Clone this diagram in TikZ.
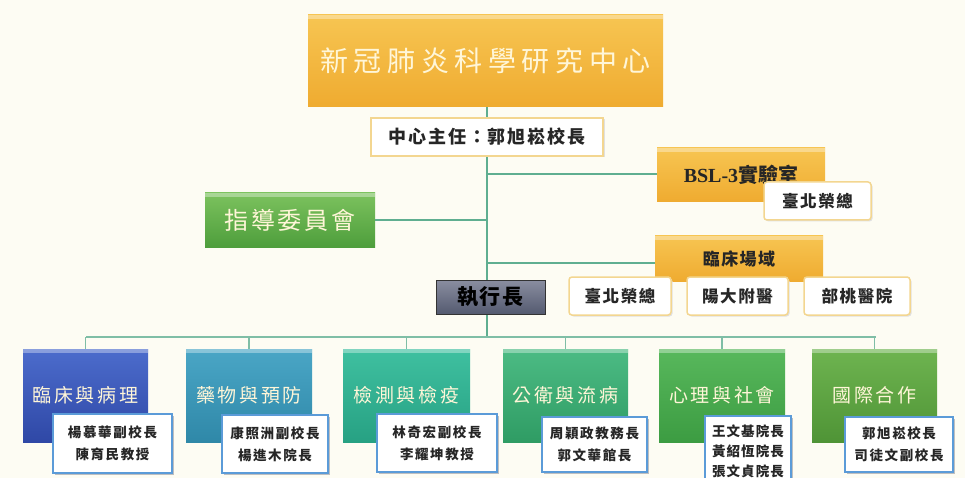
\documentclass[tikz,border=0pt]{standalone}
\usepackage{fontspec}
\setmainfont{Noto Sans CJK TC}
\newfontfamily\latinserif{Liberation Serif}
\usetikzlibrary{shadows}
\definecolor{bg}{HTML}{FDFCF3}
\definecolor{conn}{HTML}{5FAE90}
\definecolor{orA}{HTML}{F7C552}
\definecolor{orB}{HTML}{EFAB30}
\definecolor{orLine}{HTML}{F3D690}
\definecolor{grA}{HTML}{7CC25E}
\definecolor{grB}{HTML}{4E9E3C}
\definecolor{exA}{HTML}{8A8EA0}
\definecolor{exB}{HTML}{545A70}
\definecolor{bA}{HTML}{4C6CCC}\definecolor{bB}{HTML}{2F48A6}
\definecolor{tA}{HTML}{4AA6C6}\definecolor{tB}{HTML}{2F88A8}
\definecolor{cA}{HTML}{3FC0A0}\definecolor{cB}{HTML}{27A183}
\definecolor{gA}{HTML}{4CBB84}\definecolor{gB}{HTML}{2F9C64}
\definecolor{hA}{HTML}{58B85C}\definecolor{hB}{HTML}{3C9C42}
\definecolor{iA}{HTML}{6EB450}\definecolor{iB}{HTML}{4F9436}
\definecolor{pale}{HTML}{FFF6D8}
\definecolor{subblue}{HTML}{5B9BD8}
\begin{document}
\begin{tikzpicture}[x=1pt,y=-1pt,
  box/.style={inner sep=0pt, align=center, minimum width=#1},
  topstrip/.style={path picture={\fill[white,opacity=.35] (path picture bounding box.north west) rectangle ([yshift=-4pt]path picture bounding box.north east);}},
  orangebox/.style={top color=orA, bottom color=orB, topstrip},
  greenbox/.style={top color=grA, bottom color=grB, topstrip},
  execbox/.style={top color=exA, bottom color=exB, draw=black!80, line width=1pt},
  whiteor/.style={fill=white, draw=orLine, line width=1.5pt, rounded corners=3pt, general shadow={fill=black!12, shadow xshift=1.5pt, shadow yshift=-1.5pt}},
  whitebl/.style={fill=white, draw=subblue, line width=1.6pt, general shadow={fill=black!25, shadow xshift=2pt, shadow yshift=-2pt}},
  dept/.style={minimum height=93pt, topstrip, text=pale, font=\fontsize{19}{22}\selectfont\addfontfeatures{LetterSpace=14}},
  subtxt/.style={font=\fontsize{13.5}{22}\selectfont\bfseries\addfontfeatures{LetterSpace=12}, text=black!85},
  conline/.style={draw=conn, line width=1.8pt},
  busline/.style={draw=conn!80, line width=1.6pt}
]
\fill[bg] (0,0) rectangle (965,478);
\useasboundingbox (0,0) rectangle (965,478);

\coordinate (trunkb) at (487,337);
\coordinate (busL) at (86,337);
\coordinate (busR) at (876,337);

\node[box=355pt, minimum height=92pt, orangebox, text=pale,
  font=\fontsize{28}{30}\selectfont\addfontfeatures{LetterSpace=20}] (top) at (485.5,61) {新冠肺炎科學研究中心};

\node[box=170pt, minimum height=54pt, greenbox, text=pale,
  font=\fontsize{24}{26}\selectfont\addfontfeatures{LetterSpace=12}] (steer) at (290,220) {指導委員會};

\node[box=168pt, minimum height=54pt, orangebox, text=black!85,
  font=\fontsize{20}{22}\selectfont\bfseries] (bsl) at (741,175) {{\latinserif BSL-3}實驗室};

\node[box=168pt, minimum height=46pt, orangebox, text=black!85,
  font=\fontsize{17}{20}\selectfont\bfseries\addfontfeatures{LetterSpace=8}] (clin) at (739,258.5) {臨床場域};

\draw[conline] (top.south -| trunkb) -- (trunkb);
\draw[conline] ([yshift=1pt]bsl.west) -- ([yshift=1pt]bsl.west -| trunkb);
\draw[conline] (steer.east) -- (steer.east -| trunkb);
\draw[conline] ([yshift=-4.5pt]clin.west) -- ([yshift=-4.5pt]clin.west -| trunkb);
\draw[busline] (busL) -- (busR);

\node[box=232pt, minimum height=38pt, whiteor, rounded corners=0pt, text=black!85,
  font=\fontsize{18}{20}\selectfont\bfseries\addfontfeatures{LetterSpace=10}] (dir) at (487,137) {中心主任：郭旭崧校長};

\node[box=107pt, minimum height=38pt, whiteor, text=black!85,
  font=\fontsize{16.5}{20}\selectfont\bfseries\addfontfeatures{LetterSpace=10}] (bslsub) at (817.5,201) {臺北榮總};

\node[box=102pt, minimum height=38pt, whiteor, text=black!85,
  font=\fontsize{16.5}{20}\selectfont\bfseries\addfontfeatures{LetterSpace=10}] (c1) at (620,296) {臺北榮總};
\node[box=101pt, minimum height=38pt, whiteor, text=black!85,
  font=\fontsize{16.5}{20}\selectfont\bfseries\addfontfeatures{LetterSpace=10}] (c2) at (737.5,296) {陽大附醫};
\node[box=106pt, minimum height=38pt, whiteor, text=black!85,
  font=\fontsize{16.5}{20}\selectfont\bfseries\addfontfeatures{LetterSpace=10}] (c3) at (857,296) {部桃醫院};

\node[box=109pt, minimum height=34pt, execbox, text=black,
  font=\fontsize{21}{24}\selectfont\bfseries\addfontfeatures{LetterSpace=8}] (exec) at (490.5,297) {執行長};

\node[box=125pt, dept, top color=bA, bottom color=bB] (d1) at (85.5,395.5) {臨床與病理};
\node[box=126pt, dept, top color=tA, bottom color=tB] (d2) at (249,395.5) {藥物與預防};
\node[box=127pt, dept, top color=cA, bottom color=cB] (d3) at (406.5,395.5) {檢測與檢疫};
\node[box=125pt, dept, top color=gA, bottom color=gB] (d4) at (565.5,395.5) {公衛與流病};
\node[box=126pt, dept, top color=hA, bottom color=hB] (d5) at (722,395.5) {心理與社會};
\node[box=125pt, dept, top color=iA, bottom color=iB] (d6) at (874.5,395.5) {國際合作};

\foreach \d in {d1,d2,d3,d4,d5,d6} \draw[busline] (\d.north) -- (\d.north |- busL);

\node[box=119pt, minimum height=59pt, whitebl, subtxt] (s1) at (112.5,443.5) {楊慕華副校長\\陳育民教授};
\node[box=106pt, minimum height=58pt, whitebl, subtxt] (s2) at (275,444) {康照洲副校長\\楊進木院長};
\node[box=120pt, minimum height=58pt, whitebl, subtxt] (s3) at (437,443) {林奇宏副校長\\李耀坤教授};
\node[box=105pt, minimum height=55pt, whitebl, subtxt] (s4) at (594.5,444.5) {周穎政教務長\\郭文華館長};
\node[box=86pt, minimum height=70pt, whitebl, subtxt, font=\fontsize{13.5}{20}\selectfont\bfseries\addfontfeatures{LetterSpace=8}] (s5) at (748,451) {王文基院長\\黃紹恆院長\\張文貞院長};
\node[box=108pt, minimum height=55pt, whitebl, subtxt] (s6) at (899,444.5) {郭旭崧校長\\司徒文副校長};
\end{tikzpicture}
\end{document}
